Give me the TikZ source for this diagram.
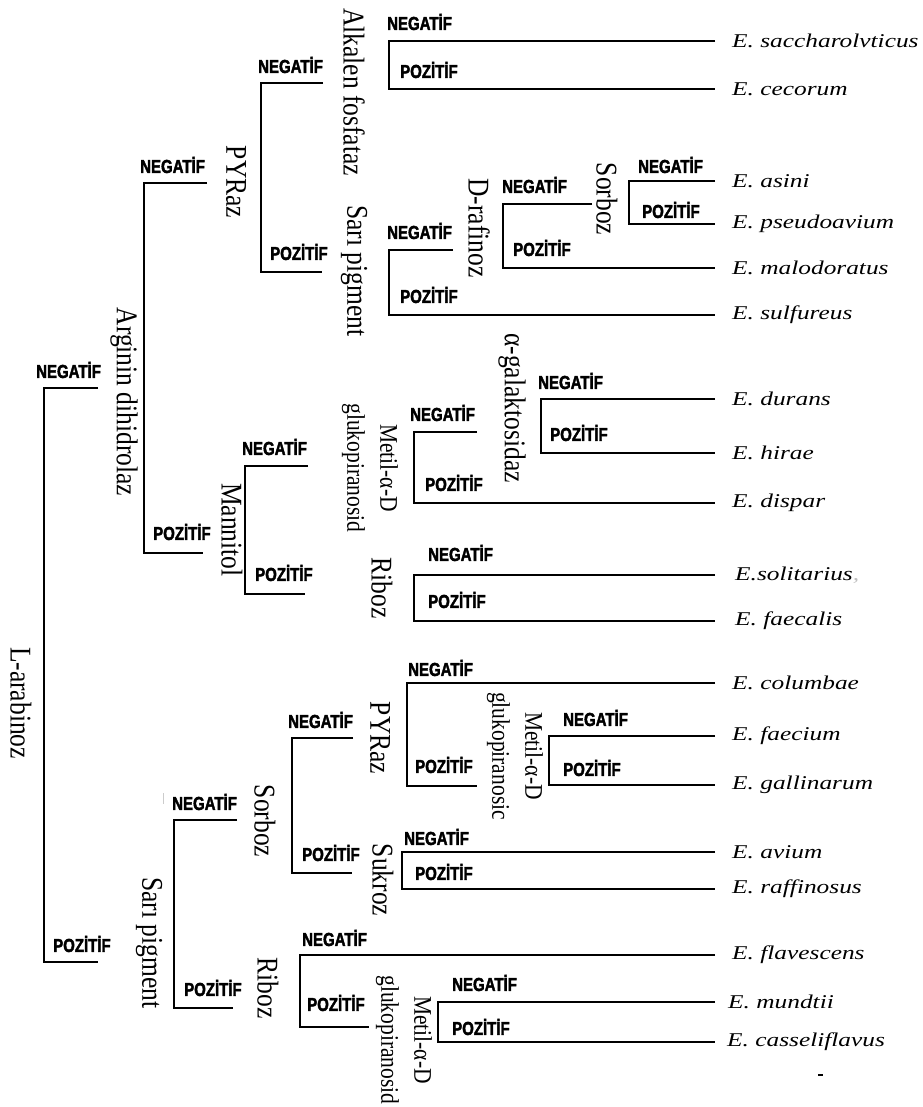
\documentclass[tikz,border=0pt]{standalone}
\usepackage{fontspec}
\usepackage{graphicx}
\setmainfont{Liberation Serif}
\newfontfamily\labfont{Liberation Sans}[FakeBold=2.5]
\newcommand{\mybrk}[6]{% name, x, ytop, xtopend, ybot, xbotend
  \coordinate (#1t) at (#4,#3);
  \coordinate (#1c) at (#2,#3);
  \coordinate (#1b) at (#6,#5);
  \draw[br] (#1t) -- (#1c) |- (#1b);}
\newcommand{\specnode}[4]{\node[spec] (#1) at ([xshift=#3]#2) {\scalebox{1.3}[1]{#4}};}
\newcommand{\ngnode}[4]{\node[neg] (#1) at (#2,#3) {\scalebox{1}[1.25]{#4}};}
\newcommand{\vtx}[1]{\scalebox{1}[1.18]{#1}}
\tikzset{
  br/.style={line width=2.3pt, line join=miter},
  neg/.style={anchor=west, inner sep=0pt, font=\labfont\bfseries\fontsize{15}{18}\selectfont},
  vlab/.style={rotate=-90, inner sep=0pt, font=\fontsize{25.5}{30}\selectfont},
  mlab/.style={rotate=-90, inner sep=0pt, align=center, font=\fontsize{21.5}{33}\selectfont},
  spec/.style={anchor=west, inner sep=0pt, font=\itshape\fontsize{19.5}{23}\selectfont},
}
\begin{document}
\begin{tikzpicture}[x=1pt,y=-1pt]
\fill[white] (0,0) rectangle (922,1107);
\useasboundingbox (0,0) rectangle (922,1107);

% ---------- brackets ----------
\mybrk{L}{44}{388}{98}{962}{98}
\mybrk{arg}{144}{183}{207}{553}{203}
\mybrk{pyrA}{261}{83}{323}{272}{322}
\mybrk{alk}{389}{41}{715}{89}{715}
\mybrk{sarA}{389}{250}{453}{315}{715}
\mybrk{draf}{503}{204}{592}{268}{715}
\mybrk{sorA}{629}{181}{715}{224}{715}
\mybrk{man}{245}{466}{308}{594}{305}
\mybrk{metA}{414}{432}{477}{503}{715}
\mybrk{agal}{541}{399}{715}{453}{715}
\mybrk{ribA}{414}{575}{715}{621}{715}
\mybrk{sarB}{174}{820}{237}{1008}{233}
\mybrk{sorB}{292}{738}{353}{873}{352}
\mybrk{pyrB}{407}{683}{715}{786}{477}
\mybrk{metB}{549}{736}{715}{785}{715}
\mybrk{suk}{402}{852}{715}{889}{715}
\mybrk{ribB}{300}{955}{715}{1027}{369}
\mybrk{metC}{438}{1002}{715}{1042}{715}

% ---------- test labels (vertical) ----------
\node[vlab] (tL) at (21,703) {\vtx{L-arabinoz}};
\node[vlab] (targ) at (124,402) {\vtx{Arginin dihidrolaz}};
\node[vlab] (tpyrA) at (236,182) {\vtx{PYRaz}};
\node[vlab] (talk) at (354,92) {\vtx{Alkalen fosfataz}};
\node[vlab] (tsarA) at (354,271) {\vtx{Sarı pigment}};
\node[vlab] (tdraf) at (479,228) {\vtx{D-rafinoz}};
\node[vlab] (tsorA) at (607,199) {\vtx{Sorboz}};
\node[vlab] (tman) at (232,530) {\vtx{Mannitol}};
\node[mlab] (tmetA) at (370,468) {\vtx{Metil-α-D}\\\vtx{glukopiranosid}};
\node[vlab] (tagal) at (512,408) {\vtx{α-galaktosidaz}};
\node[vlab] (tribA) at (382,588) {\vtx{Riboz}};
\node[vlab] (tsarB) at (149,943) {\vtx{Sarı pigment}};
\node[vlab] (tsorB) at (265,821) {\vtx{Sorboz}};
\node[vlab] (tpyrB) at (380,738) {\vtx{PYRaz}};
\node[mlab] (tmetB) at (515,756) {\vtx{Metil-α-D}\\\vtx{glukopiranosic}};
\node[vlab] (tsuk) at (383,880) {\vtx{Sukroz}};
\node[vlab] (tribB) at (268,988) {\vtx{Riboz}};
\node[mlab] (tmetC) at (404,1040) {\vtx{Metil-α-D}\\\vtx{glukopiranosid}};

% ---------- NEGATIF / POZITIF ----------
\ngnode{nL}{36}{370}{NEGATİF}
\ngnode{pL}{53}{944}{POZİTİF}
\ngnode{narg}{140}{165}{NEGATİF}
\ngnode{parg}{153}{532}{POZİTİF}
\ngnode{npyrA}{258}{65}{NEGATİF}
\ngnode{ppyrA}{270}{252}{POZİTİF}
\ngnode{nalk}{387}{22}{NEGATİF}
\ngnode{palk}{400}{70}{POZİTİF}
\ngnode{nsarA}{387}{231}{NEGATİF}
\ngnode{psarA}{400}{295}{POZİTİF}
\ngnode{ndraf}{502}{185}{NEGATİF}
\ngnode{pdraf}{513}{248}{POZİTİF}
\ngnode{nsorA}{638}{165}{NEGATİF}
\ngnode{psorA}{642}{210}{POZİTİF}
\ngnode{nman}{242}{447}{NEGATİF}
\ngnode{pman}{255}{573}{POZİTİF}
\ngnode{nmetA}{410}{413}{NEGATİF}
\ngnode{pmetA}{425}{483}{POZİTİF}
\ngnode{nagal}{538}{381}{NEGATİF}
\ngnode{pagal}{550}{433}{POZİTİF}
\ngnode{nribA}{428}{553}{NEGATİF}
\ngnode{pribA}{428}{600}{POZİTİF}
\ngnode{nsarB}{172}{802}{NEGATİF}
\ngnode{psarB}{184}{988}{POZİTİF}
\ngnode{nsorB}{288}{720}{NEGATİF}
\ngnode{psorB}{302}{853}{POZİTİF}
\ngnode{npyrB}{408}{668}{NEGATİF}
\ngnode{ppyrB}{415}{765}{POZİTİF}
\ngnode{nmetB}{563}{718}{NEGATİF}
\ngnode{pmetB}{563}{768}{POZİTİF}
\ngnode{nsuk}{404}{837}{NEGATİF}
\ngnode{psuk}{415}{872}{POZİTİF}
\ngnode{nribB}{302}{938}{NEGATİF}
\ngnode{pribB}{307}{1003}{POZİTİF}
\ngnode{nmetC}{452}{983}{NEGATİF}
\ngnode{pmetC}{452}{1027}{POZİTİF}

% ---------- species ----------
\specnode{s1}{alkt}{17}{E. saccharolvticus}
\specnode{s2}{alkb}{17}{E. cecorum}
\specnode{s3}{sorAt}{17}{E. asini}
\specnode{s4}{sorAb}{17}{E. pseudoavium}
\specnode{s5}{drafb}{17}{E. malodoratus}
\specnode{s6}{sarAb}{17}{E. sulfureus}
\specnode{s7}{agalt}{17}{E. durans}
\specnode{s8}{agalb}{17}{E. hirae}
\specnode{s9}{metAb}{17}{E. dispar}
\specnode{s10}{ribAt}{20}{E.solitarius{\color{gray!50},}}
\specnode{s11}{ribAb}{20}{E. faecalis}
\specnode{s12}{pyrBt}{17}{E. columbae}
\specnode{s13}{metBt}{17}{E. faecium}
\specnode{s14}{metBb}{17}{E. gallinarum}
\specnode{s15}{sukt}{17}{E. avium}
\specnode{s16}{sukb}{17}{E. raffinosus}
\specnode{s17}{ribBt}{17}{E. flavescens}
\specnode{s18}{metCt}{13}{E. mundtii}
\specnode{s19}{metCb}{12}{E. casseliflavus}

% small marks
\draw[gray!40, line width=0.8pt] (163,793) -- (163,804);
\draw[line width=1.5pt] (818,1075) -- (823,1075);
\end{tikzpicture}
\end{document}
